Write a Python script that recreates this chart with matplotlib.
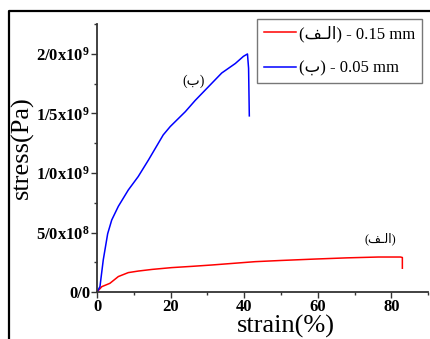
import matplotlib.pyplot as plt
from matplotlib.lines import Line2D
from matplotlib.ticker import FixedLocator, MultipleLocator

plt.rcParams['font.family'] = ['Liberation Serif', 'DejaVu Sans']
plt.rcParams['mathtext.fontset'] = 'custom'
plt.rcParams['mathtext.rm'] = 'Liberation Serif:bold'
plt.rcParams['mathtext.default'] = 'rm'

# sample 0.15 mm (red)
strain_a = [0, 1.3, 3.5, 5.8, 8.5, 11.2, 15, 20.3, 26, 31.2, 43, 50, 59.3, 68, 76.5, 82.5, 83, 83]
stress_a = [0, 0.045e9, 0.073e9, 0.13e9, 0.163e9, 0.176e9, 0.19e9, 0.205e9, 0.216e9, 0.227e9,
            0.255e9, 0.265e9, 0.277e9, 0.287e9, 0.294e9, 0.294e9, 0.29e9, 0.2e9]

# sample 0.05 mm (blue)
strain_b = [0, 0.8, 1.7, 2.9, 4.0, 5.8, 8.5, 11.2, 14, 18, 19.9, 24, 26.7, 30.3, 33.9, 37.6,
            39.8, 40.9, 41.2, 41.4]
stress_b = [0, 0.045e9, 0.27e9, 0.49e9, 0.605e9, 0.72e9, 0.857e9, 0.97e9, 1.11e9, 1.32e9, 1.39e9,
            1.515e9, 1.61e9, 1.725e9, 1.84e9, 1.92e9, 1.98e9, 2.0e9, 1.88e9, 1.48e9]

# arabic labels written in visual order (presentation forms)
lbl_alef = "(\ufed2\u0640\ufedf\ufe8d)"
lbl_beh = "(\ufe8f)"

yticks = [0, 5e8, 1e9, 1.5e9, 2e9]
ytick_labels = ["0/0", "5/0x10$^{8}$", "1/0x10$^{9}$", "1/5x10$^{9}$", "2/0x10$^{9}$"]
xticks = [0, 20, 40, 60, 80]

fig = plt.figure(figsize=(4.3, 3.39), dpi=100)
ax = fig.add_axes([0.2256, 0.1386, 0.770, 0.790])

ax.plot(strain_a, stress_a, color='#ff0000', lw=1.1, label=lbl_alef + " - 0.15 mm")
ax.plot(strain_b, stress_b, color='#0000ff', lw=1.1, label=lbl_beh + " - 0.05 mm")

ax.set_xlim(0, 90)
ax.set_ylim(0, 2.25e9)
ax.yaxis.set_major_locator(FixedLocator(yticks))
ax.set_yticklabels(ytick_labels, fontweight='bold', fontsize=12)
ax.yaxis.set_minor_locator(MultipleLocator(2.5e8))
ax.set_xticks(xticks)
ax.set_xticklabels([str(v) for v in xticks], fontweight='bold', fontsize=12)
ax.xaxis.set_minor_locator(MultipleLocator(10))

for s in ['top', 'right']:
    ax.spines[s].set_visible(False)
for s in ['left', 'bottom']:
    ax.spines[s].set_linewidth(1.3)
    ax.spines[s].set_color('#333333')
ax.tick_params(which='major', direction='out', length=4, width=1, color='#333333', pad=1)
ax.tick_params(which='minor', direction='out', length=2.5, width=1, color='#333333')

ax.set_xlabel("strain(%)", fontsize=19)
ax.xaxis.set_label_coords(0.571, -0.085)
ax.set_ylabel("stress(Pa)", fontsize=19)
ax.yaxis.set_label_coords(-0.19, 0.54)

ax.text(26.2, 1.77e9, lbl_beh, fontsize=10, ha='center', va='center')
ax.text(77, 4.45e8, lbl_alef, fontsize=9, ha='center', va='center')

ax.legend(loc='upper right', bbox_to_anchor=(422 / 430, 1 - 19 / 339),
          bbox_transform=fig.transFigure, fontsize=12, frameon=True, fancybox=False,
          edgecolor='#777777', framealpha=1, borderpad=0.4, labelspacing=1.1,
          handlelength=1.9, handletextpad=0.2, borderaxespad=0)

# outer frame around the figure (top and left edges)
fig.add_artist(Line2D([9 / 430, 9 / 430, 1], [0, 1 - 11 / 339, 1 - 11 / 339],
                      transform=fig.transFigure, color='black', lw=1.6))

fig.savefig("out.png", dpi=100)
